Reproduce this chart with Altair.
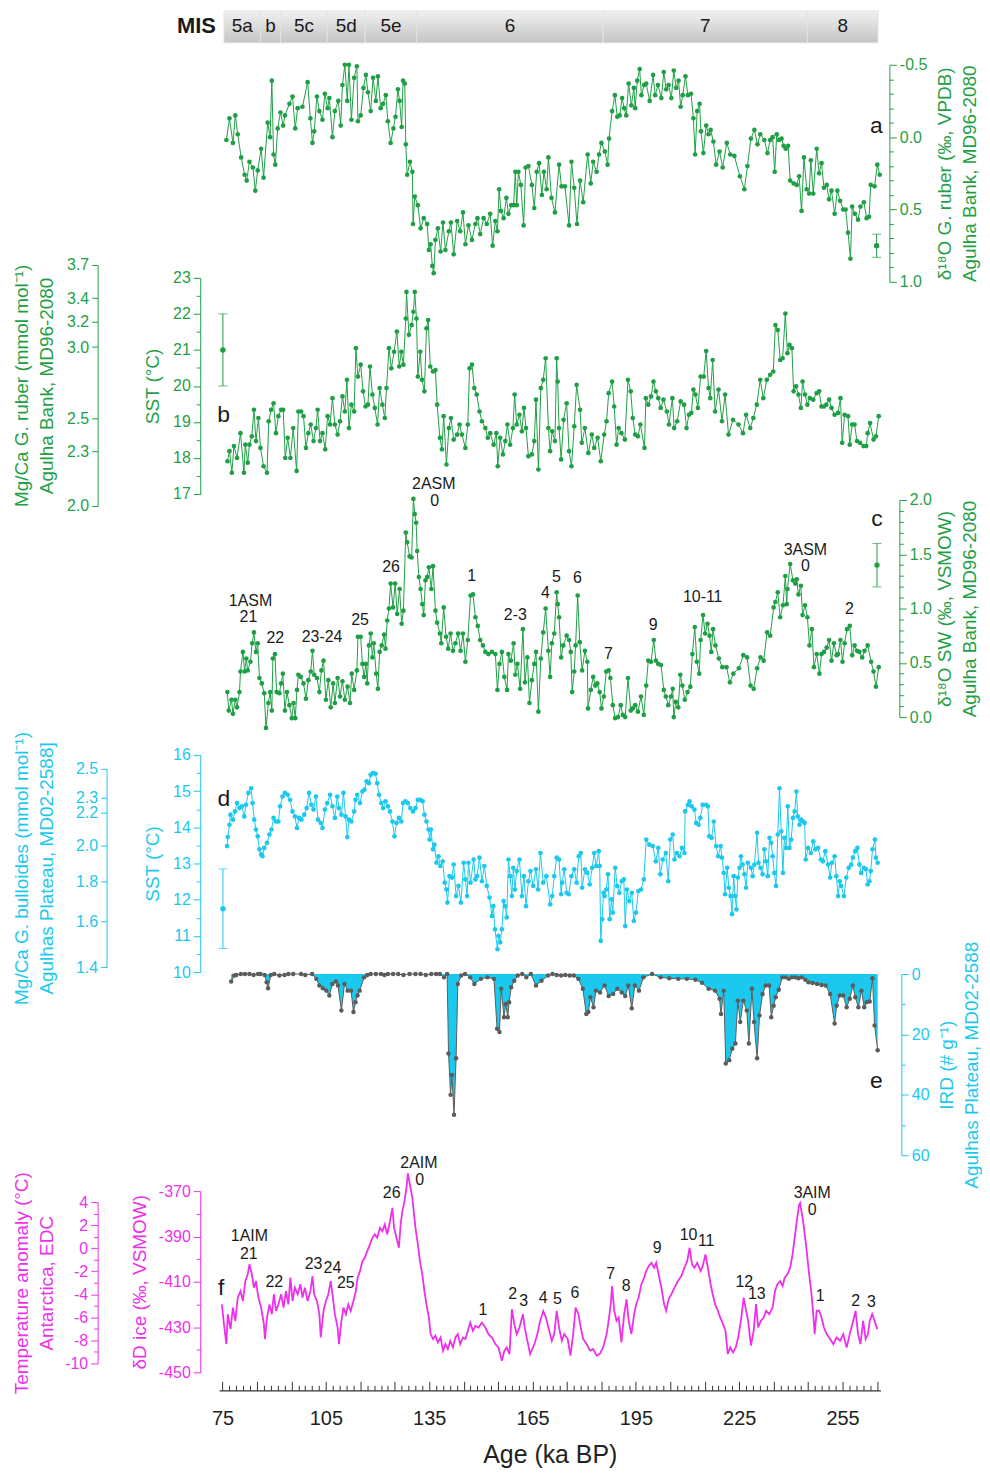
import altair as alt
import pandas as pd

FONT = "Liberation Sans"
GREEN = "#1f9f45"
CYAN = "#1bc9ee"
MAGENTA = "#ee30ea"
GREY = "#5c5c5c"
INK = "#1a1a1a"

W, H = 664, 1385
TOP = 8
AGE_DOMAIN = [74, 266]

# ---------------- MIS bar ----------------
MIS_NAMES = ["5a", "b", "5c", "5d", "5e", "6", "7", "8"]
MIS_START = [75.4, 86.0, 91.8, 105.4, 116.4, 131.4, 185.5, 244.8]
MIS_END = [86.0, 91.8, 105.4, 116.4, 131.4, 185.5, 244.8, 265.3]

# ---------------- (a) d18O G. ruber ----------------
A_D18O = [
(76.1,0.02),(77.0,-0.13),(78.0,0.04),(78.7,-0.15),(79.4,-0.02),(80.4,0.14),(81.4,0.26),(82.0,0.30),(82.8,0.17),(83.8,0.21),
(84.5,0.37),(85.2,0.23),(86.2,0.08),(86.9,0.28),(88.1,-0.10),(88.8,0.00),(89.3,-0.39),(89.8,0.12),(90.3,0.19),(91.0,-0.06),
(91.8,-0.17),(92.6,-0.08),(93.1,-0.15),(94.4,-0.23),(95.3,-0.28),(96.1,-0.06),(96.8,-0.20),(98.2,-0.21),(99.7,-0.38),(100.5,-0.13),
(101.1,0.04),(101.6,-0.04),(102.4,-0.28),(103.1,-0.18),(104.0,-0.12),(104.7,-0.30),(105.5,-0.20),(106.0,-0.27),(106.9,0.00),(107.6,-0.18),
(108.6,-0.25),(109.3,-0.08),(109.8,-0.36),(110.5,-0.50),(111.2,-0.25),(111.7,-0.50),(112.4,-0.12),(113.2,-0.41),(114.0,-0.49),(114.3,-0.11),
(115.1,-0.15),(115.9,-0.34),(116.6,-0.43),(117.2,-0.31),(118.0,-0.18),(118.7,-0.41),(119.5,-0.25),(120.1,-0.42),(120.9,-0.20),(121.6,-0.23),
(122.4,-0.29),(123.0,-0.11),(123.8,0.04),(124.6,-0.06),(125.2,-0.14),(125.9,-0.33),(126.4,-0.25),(127.0,-0.07),(127.4,-0.39),(127.9,-0.37),
(128.2,0.05),(128.6,0.26),(129.4,0.17),(130.1,0.24),(130.3,0.60),(130.8,0.41),(131.7,0.47),(132.5,0.63),(133.4,0.56),(134.4,0.60),
(134.9,0.78),(135.4,0.74),(135.9,0.89),(136.3,0.94),(136.8,0.71),(137.5,0.63),(138.3,0.79),(139.0,0.59),(139.7,0.78),(140.7,0.65),
(141.3,0.59),(142.1,0.81),(143.1,0.58),(144.0,0.65),(144.8,0.52),(145.5,0.74),(146.4,0.61),(147.4,0.71),(148.4,0.60),(149.0,0.56),
(149.8,0.67),(150.8,0.56),(151.7,0.60),(152.7,0.53),(153.4,0.75),(154.2,0.58),(154.8,0.65),(155.3,0.36),(155.8,0.51),(156.6,0.56),
(157.4,0.42),(158.0,0.53),(158.8,0.47),(159.5,0.47),(160.0,0.24),(160.4,0.47),(160.9,0.24),(161.6,0.33),(162.4,0.61),(163.0,0.21),
(163.8,0.20),(164.8,0.33),(165.5,0.49),(166.2,0.24),(166.9,0.18),(167.7,0.40),(168.3,0.24),(169.1,0.36),(169.6,0.14),(170.5,0.42),
(171.5,0.52),(172.7,0.19),(173.4,0.34),(174.4,0.34),(175.6,0.61),(176.3,0.17),(177.1,0.35),(177.9,0.60),(178.8,0.30),(179.7,0.45),
(181.0,0.12),(181.9,0.32),(182.6,0.17),(183.6,0.24),(184.3,0.12),(185.0,0.04),(186.0,0.10),(186.8,0.19),(187.2,0.01),(188.1,-0.18),
(188.9,-0.29),(189.6,-0.14),(190.3,-0.15),(191.0,-0.27),(191.6,-0.20),(192.2,-0.15),(192.9,-0.37),(193.7,-0.22),(194.4,-0.34),(194.8,-0.20),
(195.4,-0.39),(196.1,-0.47),(196.6,-0.29),(197.4,-0.36),(198.0,-0.37),(199.0,-0.25),(200.0,-0.43),(200.6,-0.29),(201.4,-0.36),(202.4,-0.27),
(203.1,-0.45),(203.8,-0.33),(204.5,-0.36),(205.3,-0.27),(206.0,-0.46),(206.7,-0.34),(207.4,-0.39),(208.0,-0.21),(208.6,-0.29),(209.4,-0.42),
(210.1,-0.29),(211.0,-0.30),(211.7,-0.13),(212.2,0.12),(212.8,-0.18),(213.5,-0.23),(213.9,-0.04),(214.6,0.11),(215.4,-0.08),(216.1,-0.02),
(216.7,-0.05),(217.5,0.03),(218.3,0.19),(219.3,0.10),(220.2,0.21),(221.4,0.04),(222.4,0.12),(223.6,0.13),(225.2,0.27),(226.5,0.36),
(227.4,0.20),(228.4,0.01),(229.4,-0.05),(230.3,0.05),(231.1,-0.02),(232.3,0.02),(233.2,0.11),(234.0,0.02),(234.7,0.00),(235.3,0.24),
(235.9,-0.02),(236.6,0.02),(237.3,0.01),(237.9,0.06),(238.5,0.08),(239.2,0.06),(239.8,0.30),(240.8,0.32),(241.7,0.33),(242.4,0.27),
(243.1,0.51),(243.8,0.14),(244.6,0.36),(245.3,0.39),(245.8,0.16),(246.5,0.39),(247.5,0.08),(248.2,0.25),(248.9,0.18),(249.6,0.35),
(250.4,0.33),(251.1,0.43),(251.8,0.37),(252.7,0.53),(253.5,0.37),(254.3,0.44),(255.2,0.50),(255.9,0.50),(256.6,0.66),(257.3,0.84),
(257.8,0.48),(258.6,0.53),(259.5,0.57),(260.2,0.48),(261.2,0.45),(262.0,0.56),(262.7,0.55),(263.2,0.33),(264.3,0.34),(265.1,0.19),
(265.8,0.26),
]
A_ERR = (264.9, 0.75, 0.08)
A_TICKS = [-0.5, -0.4, -0.3, -0.2, -0.1, 0.0, 0.1, 0.2, 0.3, 0.4, 0.5, 0.6, 0.7, 0.8, 0.9, 1.0]

# ---------------- (b) SST Agulhas Bank ----------------
B_SST = [
(76.4,17.91),(77.0,18.19),(77.7,17.59),(78.3,18.33),(79.2,18.00),(80.2,18.69),(81.2,17.59),(81.6,18.37),(82.3,17.87),(82.8,18.37),
(83.5,18.60),(84.1,19.34),(84.7,18.47),(85.4,19.11),(86.0,18.28),(86.9,17.77),(87.9,17.59),(88.4,19.02),(89.1,19.34),(89.8,19.52),
(90.5,18.69),(91.2,19.16),(92.0,19.34),(92.6,19.34),(93.2,18.00),(93.9,18.56),(94.7,18.00),(95.5,18.83),(96.5,17.64),(97.0,19.29),
(97.8,19.29),(98.5,19.16),(99.2,18.28),(99.9,18.69),(100.6,18.93),(101.4,18.47),(102.1,18.83),(102.6,19.34),(103.3,18.47),(104.0,18.69),
(104.8,18.24),(105.5,19.16),(106.2,18.93),(106.9,19.66),(107.6,18.93),(108.4,18.65),(109.1,19.02),(109.8,19.71),(110.5,19.29),(111.1,20.17),
(111.7,18.83),(112.4,19.48),(113.2,19.29),(113.7,21.05),(114.3,20.26),(115.1,20.59),(115.8,19.85),(116.5,19.43),(117.2,19.48),(117.8,20.54),
(118.5,19.76),(119.2,19.39),(120.0,18.93),(120.6,19.94),(121.4,19.48),(122.1,19.11),(122.6,19.94),(123.3,21.05),(124.0,20.49),(124.8,20.95),
(125.6,21.51),(126.3,20.54),(126.9,20.95),(127.5,20.59),(128.2,21.87),(128.4,22.61),(129.1,21.42),(129.9,21.69),(130.4,22.06),(130.8,22.61),
(131.3,21.87),(131.7,20.26),(132.4,20.95),(132.9,20.17),(133.6,19.85),(134.2,21.60),(134.7,21.83),(135.3,20.54),(136.1,20.40),(136.8,20.44),
(137.3,19.48),(138.1,18.56),(138.7,18.24),(139.2,19.16),(140.0,17.82),(140.7,18.83),(141.3,19.11),(142.1,18.51),(143.1,18.65),(143.8,18.93),
(144.5,18.65),(145.5,18.28),(146.2,18.93),(146.7,20.49),(147.4,20.59),(148.1,19.94),(148.8,19.76),(149.6,19.29),(150.3,19.02),(151.3,18.83),
(152.0,18.56),(152.7,18.69),(153.7,18.37),(154.5,18.69),(154.9,17.77),(155.6,18.56),(156.4,18.10),(157.1,18.47),(157.7,18.93),(158.5,18.37),
(159.3,18.83),(159.8,19.76),(160.4,18.93),(161.2,19.20),(161.9,18.74),(162.5,19.39),(163.1,18.83),(163.8,18.05),(164.8,18.10),(165.5,18.47),
(166.0,19.62),(166.7,17.68),(167.4,19.94),(168.1,20.17),(168.8,20.77),(169.6,18.83),(170.1,18.19),(170.7,18.74),(171.5,18.47),(172.0,20.77),
(172.3,20.12),(172.7,18.83),(173.3,17.96),(174.0,19.06),(174.9,19.52),(175.6,18.19),(176.3,17.77),(177.1,18.88),(177.8,20.03),(178.8,19.34),
(179.3,18.42),(180.2,18.83),(181.2,18.14),(182.2,18.65),(182.9,18.28),(183.9,18.56),(184.8,17.91),(185.8,18.65),(186.5,19.02),(187.1,19.80),
(188.1,20.12),(188.7,19.43),(189.4,18.37),(190.0,18.83),(190.8,18.69),(191.8,18.51),(192.7,20.17),(193.5,19.85),(194.1,19.11),(194.8,18.65),
(195.6,18.60),(196.3,18.93),(197.5,18.28),(197.9,19.66),(198.6,19.48),(199.4,19.71),(200.1,20.12),(200.8,19.85),(201.5,19.66),(202.2,19.39),
(203.0,19.62),(204.0,19.29),(204.6,18.93),(205.6,19.66),(206.1,18.83),(207.0,19.02),(208.0,19.57),(209.0,19.48),(209.7,18.83),(210.4,19.20),
(211.1,19.25),(211.7,19.90),(212.3,19.76),(213.0,19.39),(213.8,20.26),(214.7,20.26),(215.4,20.97),(216.1,19.94),(216.6,19.66),(217.3,20.72),
(218.0,19.29),(219.0,19.90),(220.0,19.02),(220.9,19.76),(221.9,18.65),(223.2,19.06),(224.8,18.93),(226.1,18.69),(227.0,19.20),(228.2,18.83),
(229.1,19.11),(230.1,19.48),(231.1,20.17),(232.0,19.66),(233.0,20.17),(234.0,20.31),(234.9,20.40),(235.5,21.69),(236.2,21.55),(236.9,20.72),
(237.6,20.77),(238.4,22.01),(239.0,20.91),(239.6,21.14),(240.3,21.05),(240.8,19.85),(241.5,19.99),(242.2,19.76),(242.9,19.39),(243.4,20.12),
(244.1,19.76),(244.8,19.48),(245.5,19.66),(246.5,19.62),(247.5,19.80),(248.2,19.85),(248.9,19.43),(249.6,19.43),(250.3,19.48),(251.1,19.62),
(251.8,19.39),(252.7,19.20),(253.7,19.25),(254.4,19.66),(254.9,18.42),(255.6,19.20),(256.6,19.16),(257.1,18.37),(257.8,18.93),(258.5,18.93),
(259.2,18.47),(260.1,18.42),(261.1,18.33),(261.9,18.33),(262.3,18.69),(263.0,18.97),(264.0,18.51),(264.7,18.60),(265.5,19.16),
]
B_ERR = (75.1, 21.0, 1.0)
B_SST_TICKS = [17, 17.5, 18, 18.5, 19, 19.5, 20, 20.5, 21, 21.5, 22, 22.5, 23]
B_MGCA_TICKS = [2.0, 2.3, 2.5, 3.0, 3.2, 3.4, 3.7]

# ---------------- (c) d18O seawater ----------------
C_D18OSW = [
(76.4,0.23),(76.8,0.06),(77.6,0.16),(78.0,0.03),(78.7,0.16),(79.2,0.09),(79.9,0.23),(80.2,0.42),(80.9,0.60),(81.4,0.42),
(81.9,0.54),(82.3,0.43),(83.1,0.51),(83.6,0.68),(84.1,0.78),(84.7,0.60),(85.2,0.68),(85.7,0.36),(86.4,0.31),(87.1,0.22),
(87.6,-0.10),(88.3,0.13),(88.8,0.23),(89.3,0.06),(89.6,0.54),(90.2,0.58),(90.7,0.23),(91.5,0.22),(92.0,0.31),(92.5,0.40),
(93.1,0.06),(93.7,0.23),(94.4,0.11),(95.1,-0.01),(95.6,0.13),(96.1,-0.01),(96.6,0.25),(97.0,0.39),(97.7,0.37),(98.5,0.31),
(99.2,0.17),(99.9,0.34),(100.6,0.42),(101.1,0.61),(101.6,0.39),(102.4,0.36),(103.1,0.23),(103.7,0.43),(104.3,0.52),(105.0,0.16),
(105.7,0.34),(106.4,0.09),(107.1,0.31),(107.6,0.13),(108.4,0.36),(109.1,0.19),(109.8,0.33),(110.5,0.16),(111.3,0.28),(112.0,0.13),
(112.5,0.40),(113.2,0.25),(114.0,0.43),(114.3,0.74),(115.1,0.74),(115.6,0.49),(116.1,0.37),(116.6,0.49),(117.0,0.31),(117.5,0.66),
(118.0,0.77),(118.5,0.55),(118.9,0.68),(119.6,0.40),(120.1,0.26),(120.6,0.60),(121.2,0.66),(121.9,0.76),(122.3,0.63),(122.8,0.89),
(123.3,1.00),(123.8,1.23),(124.5,1.01),(125.1,1.23),(125.7,0.95),(126.4,1.18),(127.0,0.86),(127.5,0.98),(128.2,1.70),(128.6,1.61),
(129.3,1.48),(129.9,1.47),(130.4,2.01),(130.8,1.87),(131.2,1.79),(131.5,1.53),(132.0,1.29),(132.5,1.18),(133.0,1.04),(133.4,0.94),
(133.9,1.26),(134.4,1.29),(134.9,1.38),(135.6,1.18),(136.1,1.39),(136.8,0.98),(137.3,0.87),(138.1,0.77),(138.5,0.68),(139.2,1.01),
(139.9,0.74),(140.5,0.63),(141.2,0.77),(141.9,0.61),(142.6,0.68),(143.4,0.77),(144.1,0.61),(144.8,0.77),(145.5,0.51),(146.2,0.71),
(147.0,1.12),(147.7,1.13),(148.4,0.92),(149.1,0.84),(149.8,0.71),(150.6,0.66),(151.3,0.60),(152.2,0.58),(153.2,0.60),(154.2,0.58),
(154.8,0.25),(155.4,0.49),(156.1,0.60),(156.8,0.37),(157.6,0.25),(158.0,0.58),(158.7,0.52),(159.5,0.68),(160.0,0.39),(160.6,0.49),
(161.4,0.26),(162.2,0.81),(162.8,0.32),(163.5,0.55),(164.1,0.13),(164.8,0.34),(165.5,0.49),(166.0,0.60),(166.7,0.05),(167.4,0.54),
(168.1,0.78),(168.8,1.00),(169.6,0.61),(170.1,0.37),(170.6,0.68),(171.3,0.77),(172.0,1.15),(172.3,1.04),(172.7,0.92),(173.3,0.55),
(173.9,0.66),(174.9,0.75),(175.6,0.71),(176.1,0.60),(176.5,0.23),(177.1,0.42),(177.5,0.66),(178.1,1.12),(178.7,0.69),(179.4,0.43),
(180.2,0.61),(180.9,0.51),(181.1,0.08),(181.9,0.25),(182.6,0.37),(183.2,0.29),(183.8,0.31),(184.5,0.23),(185.0,0.08),(185.7,0.19),
(186.4,0.42),(187.1,0.43),(187.6,0.36),(188.3,0.11),(189.0,-0.01),(189.8,0.00),(190.6,0.11),(191.2,0.02),(191.9,0.00),(192.7,0.36),
(193.5,0.06),(194.1,0.08),(194.8,0.11),(195.6,0.05),(196.5,0.19),(197.3,0.02),(198.0,0.29),(198.6,0.52),(199.4,0.51),(200.2,0.71),
(200.8,0.52),(201.5,0.49),(202.3,0.48),(203.1,0.25),(203.7,0.19),(204.4,0.11),(205.2,0.19),(205.7,0.26),(206.0,0.00),(206.6,0.14),
(207.3,0.09),(207.9,0.39),(208.5,0.29),(209.2,0.16),(210.0,0.23),(210.8,0.28),(211.4,0.58),(212.1,0.83),(212.7,0.51),(213.4,0.40),
(213.8,0.71),(214.5,0.94),(215.1,0.77),(215.8,0.86),(216.4,0.75),(216.9,0.60),(217.4,0.81),(218.1,0.66),(219.1,0.54),(220.1,0.46),
(221.3,0.46),(222.3,0.32),(223.3,0.40),(224.9,0.45),(226.2,0.57),(227.3,0.55),(228.3,0.29),(229.2,0.26),(230.2,0.45),(231.2,0.55),
(232.1,0.52),(233.1,0.78),(234.0,0.75),(235.0,1.01),(235.5,1.06),(236.2,1.15),(236.9,0.92),(237.7,1.03),(238.4,1.30),(238.8,1.04),
(239.0,1.18),(239.8,1.41),(240.6,1.26),(241.3,1.23),(241.7,1.27),(242.2,1.13),(242.9,1.21),(243.4,0.94),(244.1,1.03),(244.8,0.92),
(245.4,0.66),(246.1,0.81),(246.7,0.46),(247.5,0.58),(248.3,0.40),(248.9,0.58),(249.6,0.60),(250.4,0.64),(251.1,0.71),(251.8,0.52),
(252.5,0.68),(253.3,0.57),(253.7,0.58),(254.4,0.71),(255.0,0.51),(255.6,0.68),(256.3,0.81),(257.1,0.84),(257.8,0.57),(258.5,0.66),
(259.2,0.61),(259.9,0.60),(260.7,0.55),(261.4,0.61),(262.3,0.66),(263.3,0.51),(264.0,0.42),(264.7,0.28),(265.5,0.46),
]
C_ERR = (265.0, 1.40, 0.20)
C_TICKS = [0.0, 0.1, 0.2, 0.3, 0.4, 0.5, 0.6, 0.7, 0.8, 0.9, 1.0, 1.1, 1.2, 1.3, 1.4, 1.5, 1.6, 1.7, 1.8, 1.9, 2.0]
C_LABEL_TEXT = ["1ASM", "21", "22", "23-24", "25", "26", "2ASM", "0", "1", "2-3", "4", "5", "6", "7", "9", "10-11", "3ASM", "0", "2"]
C_LABEL_AGE = [83.1, 82.5, 90.3, 103.9, 114.9, 123.9, 136.3, 136.6, 147.3, 160.0, 168.7, 171.9, 178.0, 187.0, 200.0, 214.4, 244.2, 244.2, 257.0]
C_LABEL_VAL = [1.07, 0.92, 0.73, 0.74, 0.89, 1.38, 2.15, 1.99, 1.30, 0.94, 1.14, 1.29, 1.28, 0.58, 0.85, 1.11, 1.54, 1.39, 1.00]

# ---------------- (d) SST Agulhas Plateau ----------------
D_SST = [
(76.3,13.48),(76.5,13.73),(77.0,14.07),(77.3,14.35),(78.0,14.21),(78.6,14.44),(79.2,14.67),(79.9,14.53),(80.6,14.58),(81.3,14.30),
(81.8,14.62),(82.5,14.95),(83.3,15.08),(83.7,14.67),(84.2,14.21),(84.7,13.94),(85.2,13.75),(85.7,13.39),(86.2,13.25),(86.6,13.20),
(87.1,13.43),(87.9,13.57),(88.6,13.80),(89.2,13.94),(89.8,14.26),(90.5,14.16),(91.2,14.16),(91.7,14.58),(92.4,14.85),(93.1,14.95),
(93.9,14.90),(94.6,14.76),(95.3,14.44),(96.0,14.30),(96.6,13.98),(97.2,14.26),(97.9,14.21),(98.7,14.35),(99.4,14.53),(100.1,14.95),
(100.8,14.62),(101.4,14.49),(102.1,14.85),(102.7,14.21),(103.5,14.12),(104.0,13.98),(104.7,14.49),(105.4,14.67),(106.2,14.90),(106.9,14.58),
(107.6,14.26),(108.3,14.85),(108.8,14.53),(109.5,14.35),(110.1,14.95),(110.7,14.30),(111.2,13.73),(111.7,14.21),(112.4,14.16),(113.2,14.44),
(113.6,14.76),(114.1,14.90),(114.9,14.67),(115.6,14.99),(116.2,15.04),(116.8,15.27),(117.5,15.22),(118.0,15.45),(118.7,15.50),(119.4,15.48),
(119.9,15.22),(120.4,14.90),(121.1,14.67),(121.6,14.53),(122.3,14.72),(123.0,14.58),(123.6,14.44),(124.3,14.16),(124.9,13.75),(125.5,14.12),
(126.2,14.26),(126.9,14.16),(127.4,14.67),(128.1,14.72),(128.8,14.67),(129.5,14.53),(130.3,14.44),(131.0,14.53),(131.7,14.76),(132.4,14.76),
(133.1,14.72),(133.6,14.35),(134.2,14.16),(134.8,13.94),(135.1,13.66),(135.5,13.94),(136.1,13.39),(136.5,13.52),(137.1,13.02),(137.7,13.20),
(138.2,12.93),(138.9,13.06),(139.5,12.47),(140.0,12.28),(140.3,11.92),(140.9,12.65),(141.6,12.61),(142.1,12.97),(142.8,12.10),(143.5,12.38),
(144.2,11.92),(145.0,13.02),(145.5,12.56),(146.0,12.10),(146.4,13.02),(147.0,12.47),(147.9,13.11),(148.4,12.56),(148.9,12.65),(149.6,13.16),
(150.3,12.51),(151.0,12.93),(151.7,12.38),(152.5,12.06),(153.2,11.55),(153.6,11.82),(154.1,11.18),(154.8,10.63),(155.1,11.00),(155.6,10.82),
(156.1,11.18),(156.6,11.96),(157.0,11.82),(157.5,11.51),(158.0,13.11),(158.5,12.65),(159.0,12.10),(159.4,12.88),(159.9,12.28),(160.4,12.79),
(161.2,13.11),(161.9,12.10),(162.5,12.65),(163.1,11.82),(163.8,12.51),(164.4,12.79),(165.2,12.38),(166.0,12.84),(166.6,12.28),(167.3,13.29),
(168.1,12.47),(169.0,12.65),(170.1,11.87),(170.7,12.10),(171.3,12.65),(172.0,13.16),(172.7,13.11),(173.3,12.15),(173.6,12.47),(174.2,12.84),
(174.9,12.19),(175.5,12.15),(176.3,12.65),(177.1,12.84),(177.8,12.47),(178.4,13.20),(179.0,13.29),(179.4,12.33),(180.2,12.84),(180.9,12.74),
(181.6,12.42),(182.3,12.88),(182.9,13.29),(183.5,12.93),(184.2,13.34),(184.5,12.93),(184.8,10.86),(185.2,11.46),(185.6,12.19),(185.9,12.10),
(186.4,12.28),(186.9,12.70),(187.4,11.46),(187.9,12.01),(188.3,11.64),(189.0,12.88),(189.6,12.38),(190.2,12.19),(190.9,12.51),(191.5,12.56),
(191.9,11.27),(192.4,12.28),(193.1,11.96),(193.8,12.19),(194.4,11.41),(195.0,11.64),(195.7,12.24),(196.5,12.28),(197.3,12.56),(198.0,13.66),
(198.9,13.52),(199.9,13.48),(200.8,13.06),(201.5,13.43),(202.1,12.70),(202.8,13.11),(203.7,13.29),(204.4,12.51),(205.0,13.66),(205.7,13.80),
(206.2,13.11),(206.9,13.29),(207.7,13.20),(208.4,13.43),(209.1,13.29),(209.3,14.44),(210.1,14.62),(210.6,14.72),(211.2,14.58),(212.0,14.49),
(212.5,14.12),(213.2,14.07),(213.7,14.26),(214.4,14.62),(215.4,14.62),(215.9,14.58),(216.3,13.75),(217.0,13.71),(217.6,14.16),(218.3,13.48),
(218.9,13.20),(219.6,13.48),(220.0,13.16),(220.5,12.74),(220.9,12.15),(221.5,12.88),(222.0,12.33),(222.5,12.10),(222.9,11.60),(223.4,12.65),
(223.8,12.10),(224.2,11.73),(224.6,12.61),(225.1,12.88),(225.5,13.20),(226.0,12.97),(226.5,12.70),(227.0,12.33),(227.5,13.02),(228.4,12.88),
(228.9,12.65),(229.4,12.97),(230.2,13.85),(230.6,13.02),(231.2,12.88),(231.8,12.70),(232.3,13.39),(232.8,13.06),(233.3,12.65),(233.8,13.71),
(234.3,13.57),(234.7,13.20),(235.2,12.74),(235.7,12.38),(236.2,13.80),(236.7,15.08),(237.2,13.89),(237.7,12.74),(238.1,13.71),(238.6,13.43),
(239.1,14.58),(239.6,13.43),(240.1,13.66),(240.6,14.26),(241.1,14.44),(241.6,14.99),(242.0,14.30),(242.5,14.07),(243.0,14.21),(243.5,14.16),
(244.0,14.12),(244.3,13.11),(245.0,13.43),(245.8,13.29),(246.5,13.61),(247.1,13.39),(247.9,13.43),(248.7,13.11),(249.3,13.06),(250.0,13.34),
(250.8,12.97),(251.4,12.61),(251.9,13.02),(252.7,13.20),(253.2,12.65),(253.7,12.10),(254.2,12.51),(254.6,12.38),(255.4,12.10),(256.1,12.61),
(256.8,12.88),(257.5,12.97),(258.0,13.16),(258.7,13.34),(259.3,13.43),(259.9,12.97),(260.4,12.74),(261.2,12.88),(261.8,12.84),(262.3,12.42),
(262.8,12.51),(263.2,12.79),(263.7,13.39),(264.4,13.66),(264.7,13.16),(265.2,13.02),
]
D_ERR = (75.1, 11.75, 1.1)
D_SST_TICKS = [10, 10.5, 11, 11.5, 12, 12.5, 13, 13.5, 14, 14.5, 15, 15.5, 16]
D_MGCA_TICKS = [1.4, 1.6, 1.8, 2.0, 2.2, 2.3, 2.5]

# ---------------- (e) IRD ----------------
E_IRD = [
(77.5,2.5),(78.4,0.5),(79.0,0.3),(80.3,0.0),(81.5,0.0),(82.8,0.0),(84.0,0.3),(85.3,0.0),(86.0,0.0),(87.2,0.3),
(87.8,2.7),(88.2,4.7),(89.0,0.3),(90.0,0.0),(91.5,0.5),(93.0,0.3),(94.1,0.0),(95.5,0.0),(97.8,0.0),(99.0,0.3),
(101.0,0.0),(102.2,1.6),(103.1,3.8),(104.1,4.7),(105.1,5.5),(106.0,7.1),(106.9,3.3),(107.9,2.5),(108.5,3.8),(109.5,12.1),
(110.4,3.3),(111.3,5.5),(112.3,5.5),(113.0,12.6),(113.6,9.3),(114.2,7.1),(114.8,5.5),(116.1,1.1),(117.0,0.3),(118.0,0.0),
(119.5,0.0),(121.0,0.0),(122.0,0.3),(123.0,0.0),(124.5,0.0),(126.0,0.0),(127.5,0.3),(129.3,0.0),(131.0,0.0),(132.5,0.0),
(134.0,0.3),(135.6,0.0),(137.0,0.0),(138.1,0.0),(139.3,1.1),(140.2,0.0),(140.6,26.3),(141.2,40.0),(141.6,33.4),(142.2,46.6),
(142.8,27.9),(143.3,3.3),(144.3,0.5),(145.4,0.0),(146.9,1.1),(148.1,3.3),(150.0,1.6),(151.9,1.1),(153.8,1.6),(154.7,18.1),
(155.4,19.2),(155.9,4.9),(156.7,14.3),(157.2,9.9),(157.8,14.3),(158.2,9.3),(158.8,4.4),(159.7,2.2),(160.7,0.5),(162.0,0.0),
(163.2,1.1),(164.5,0.0),(166.0,3.8),(167.6,2.2),(169.5,0.5),(170.8,0.0),(172.0,0.3),(173.3,0.5),(174.5,0.3),(175.8,0.5),
(177.0,0.5),(178.3,1.6),(179.6,4.9),(180.6,13.2),(181.2,12.6),(181.8,7.7),(182.7,11.0),(183.4,5.5),(184.6,6.1),(185.9,3.8),
(187.1,7.3),(188.4,6.6),(189.6,4.9),(190.9,6.1),(191.9,7.3),(192.8,3.8),(193.8,11.3),(194.7,3.8),(195.9,5.5),(197.2,1.1),
(199.7,0.0),(202.2,1.1),(204.7,1.4),(207.3,1.6),(209.8,1.6),(212.3,1.9),(214.2,2.9),(216.1,4.9),(218.0,5.5),(219.3,8.2),
(219.7,13.2),(220.5,5.5),(221.1,29.6),(222.1,28.5),(223.0,24.7),(223.9,23.0),(224.6,8.8),(225.3,15.9),(226.2,8.8),(227.2,12.1),
(227.8,23.0),(228.7,4.9),(229.3,15.9),(230.2,27.9),(230.9,13.7),(231.8,6.6),(232.7,3.8),(233.7,3.8),(234.3,14.3),(235.0,10.5),
(235.6,7.7),(236.5,5.2),(237.5,1.1),(238.5,1.1),(239.4,1.6),(240.3,1.1),(241.3,1.1),(242.2,1.4),(243.2,1.1),(244.2,1.9),
(245.1,2.7),(246.3,3.0),(247.6,3.3),(248.9,3.6),(250.1,3.8),(251.4,6.6),(252.7,16.4),(253.3,10.5),(254.2,7.1),(255.2,7.1),
(256.2,11.0),(257.1,8.2),(258.0,3.8),(258.7,7.7),(259.6,11.0),(260.5,5.5),(261.3,11.0),(262.0,9.3),(262.9,9.1),(263.7,1.4),
(264.3,17.0),(265.2,25.2),
]
E_TICKS = [0, 10, 20, 30, 40, 50, 60]

# ---------------- (f) EDC dD ----------------
F_DD = [
(74.8,-420.0),(75.4,-428.7),(76.1,-437.5),(76.5,-424.3),(77.3,-430.9),(78.0,-421.4),(78.7,-427.3),(79.4,-417.0),(80.2,-414.1),(80.9,-418.5),
(81.6,-409.7),(82.3,-406.7),(82.8,-402.3),(83.5,-406.7),(84.1,-412.6),(84.7,-409.7),(85.4,-417.0),(86.2,-421.4),(87.0,-428.7),(87.3,-435.3),
(87.9,-425.8),(88.6,-420.0),(89.3,-424.3),(89.9,-415.5),(90.5,-422.9),(91.2,-420.0),(92.0,-415.5),(92.7,-421.4),(93.4,-414.1),(94.1,-420.0),
(94.7,-408.2),(95.3,-418.5),(96.0,-412.6),(96.8,-415.5),(97.6,-411.1),(98.2,-417.0),(98.9,-412.6),(99.7,-418.5),(100.5,-414.1),(101.1,-407.5),
(101.6,-415.5),(102.4,-418.5),(103.1,-424.3),(103.5,-434.6),(104.3,-422.9),(105.0,-418.5),(105.7,-415.5),(106.4,-409.7),(106.9,-415.5),(107.6,-424.3),
(108.4,-430.2),(108.8,-437.5),(109.5,-427.3),(110.1,-421.4),(110.8,-424.3),(111.5,-420.0),(112.2,-422.9),(113.0,-418.5),(113.7,-414.1),(114.2,-408.2),
(114.9,-405.3),(115.6,-400.9),(116.3,-399.4),(117.0,-396.5),(117.8,-393.5),(118.5,-390.6),(119.2,-389.1),(119.9,-390.6),(120.7,-386.2),(121.4,-387.7),
(122.1,-384.7),(122.8,-389.1),(123.6,-383.3),(124.3,-377.4),(124.8,-386.2),(125.5,-390.6),(126.2,-395.0),(126.7,-384.7),(127.2,-378.9),(127.8,-374.5),
(128.4,-368.6),(128.8,-362.1),(129.4,-367.2),(130.1,-373.0),(130.5,-378.9),(131.0,-386.2),(131.7,-393.5),(132.3,-400.9),(133.0,-406.7),(133.6,-414.1),
(134.2,-420.0),(134.9,-425.8),(135.4,-433.1),(136.1,-435.3),(136.8,-433.8),(137.5,-436.8),(138.3,-434.6),(139.0,-440.5),(139.7,-437.5),(140.4,-439.7),
(141.1,-436.1),(141.9,-439.0),(142.6,-434.6),(143.3,-433.1),(144.0,-437.5),(144.8,-434.6),(145.5,-435.3),(146.2,-431.7),(146.9,-428.0),(147.7,-431.7),
(148.4,-429.5),(149.3,-430.2),(150.3,-428.0),(151.3,-430.2),(152.2,-433.1),(153.2,-434.6),(154.2,-437.5),(155.1,-439.0),(156.1,-444.9),(156.8,-440.5),
(157.5,-439.0),(158.3,-442.0),(159.0,-422.1),(159.7,-428.7),(160.4,-433.1),(161.2,-430.2),(162.2,-424.3),(162.8,-430.9),(163.5,-436.1),(164.3,-442.0),
(165.1,-439.0),(165.7,-436.8),(166.4,-433.1),(167.2,-427.3),(168.1,-422.9),(168.9,-425.8),(169.6,-430.2),(170.6,-436.1),(171.3,-433.1),(172.0,-422.8),
(172.7,-430.2),(173.5,-436.0),(174.2,-433.1),(175.2,-435.3),(176.0,-442.6),(176.8,-433.1),(177.5,-421.4),(178.3,-424.3),(179.0,-430.2),(179.7,-435.3),
(180.7,-437.5),(181.7,-440.4),(182.6,-439.7),(183.6,-442.6),(184.5,-441.9),(185.5,-439.0),(186.5,-433.1),(187.1,-427.2),(187.7,-419.9),(188.1,-411.9),
(188.7,-422.8),(189.4,-427.2),(190.0,-425.8),(190.8,-436.8),(191.6,-424.3),(192.3,-417.7),(192.9,-427.2),(193.7,-433.1),(194.5,-424.3),(195.1,-419.9),
(195.8,-417.0),(196.6,-411.1),(197.4,-408.2),(198.0,-405.3),(198.7,-403.1),(199.5,-401.6),(200.3,-403.8),(200.9,-401.6),(201.6,-406.7),(202.4,-412.6),
(203.2,-419.9),(203.8,-422.8),(204.5,-417.7),(205.3,-415.5),(206.2,-412.6),(207.2,-409.7),(208.2,-407.5),(209.1,-403.8),(209.9,-400.9),(210.6,-395.0),
(211.3,-402.3),(212.0,-403.8),(212.8,-401.6),(213.8,-405.3),(214.4,-403.1),(215.2,-397.9),(215.9,-403.8),(216.7,-411.1),(217.3,-415.5),(218.0,-419.9),
(218.8,-422.8),(219.5,-425.8),(220.3,-428.7),(221.0,-431.6),(221.7,-441.9),(222.4,-439.0),(223.2,-441.2),(224.0,-439.0),(224.7,-434.6),(225.5,-427.2),
(226.3,-417.0),(227.0,-422.8),(227.6,-427.2),(228.4,-438.2),(229.2,-431.6),(229.9,-419.9),(230.5,-430.2),(231.3,-427.2),(232.1,-425.8),(232.8,-422.8),
(233.7,-424.3),(234.7,-421.4),(235.4,-414.1),(236.1,-411.1),(236.9,-409.7),(237.6,-411.9),(238.2,-408.2),(239.0,-406.7),(239.8,-403.8),(240.5,-397.9),
(241.1,-390.6),(241.7,-383.3),(242.4,-376.0),(242.7,-375.2),(242.9,-377.4),(243.4,-381.8),(243.8,-386.2),(244.6,-396.5),(245.3,-406.7),(246.0,-415.5),
(246.5,-424.3),(246.9,-433.1),(247.5,-422.8),(248.2,-422.8),(248.9,-425.8),(249.6,-430.2),(250.4,-433.1),(251.4,-435.3),(252.3,-437.5),(253.3,-434.6),
(254.3,-436.0),(255.2,-433.1),(256.2,-439.0),(257.1,-433.1),(258.1,-427.2),(258.8,-422.8),(259.5,-433.1),(260.2,-437.5),(261.0,-427.2),(261.7,-435.3),
(262.4,-433.1),(262.9,-427.2),(263.6,-424.3),(264.3,-427.2),(265.1,-430.9),
]
F_DD_TICKS = [-450, -440, -430, -420, -410, -400, -390, -380, -370]
F_T_TICKS = [-10, -9, -8, -7, -6, -5, -4, -3, -2, -1, 0, 1, 2, 3, 4]
F_LABEL_TEXT = ["1AIM", "21", "22", "23", "24", "25", "26", "2AIM", "0", "1", "2", "3", "4", "5", "6", "7", "8", "9", "10", "11", "12", "13", "3AIM", "0", "1", "2", "3"]
F_LABEL_AGE = [82.8, 82.6, 90.0, 101.4, 106.9, 110.8, 124.1, 132.0, 132.2, 150.6, 159.2, 162.4, 168.1, 172.2, 177.3, 187.7, 192.2, 201.2, 210.3, 215.4, 226.5, 230.1, 246.2, 246.2, 248.5, 258.8, 263.4]
F_LABEL_VAL = [-389.8, -397.7, -410.0, -402.1, -403.8, -410.4, -370.9, -357.7, -365.0, -422.6, -415.6, -418.5, -417.3, -417.8, -414.8, -406.5, -411.9, -395.1, -389.5, -392.1, -410.1, -415.6, -370.9, -378.2, -416.3, -418.5, -418.8]

# ---------------- x axis ----------------
X_TICKS = list(range(75, 266, 2))
X_LABELS = [75, 105, 135, 165, 195, 225, 255]

# ================= chart construction =================
def yscale(d0, d1, p0, p1, typ="linear"):
    return alt.Scale(type=typ, domain=[d0, d1], range=[p0 - TOP, p1 - TOP], zero=False, nice=False)

S_A = yscale(-0.5, 1.0, 62, 280)
S_B = yscale(17, 23, 493, 276)
S_BMG = yscale(2.0, 3.7, 505, 263, "log")
S_C = yscale(0.0, 2.0, 717, 499)
S_D = yscale(10, 16, 973, 755)
S_DMG = yscale(1.4, 2.5, 968, 769, "log")
S_E = yscale(0, 60, 975, 1157)
S_F = yscale(-450, -370, 1375, 1193)
S_FT = yscale(-10, 4, 1366, 1204)
XS = alt.Scale(domain=AGE_DOMAIN, zero=False, nice=False)
X = alt.X("age:Q", scale=XS, axis=None, title=None)


def lab(test, fmt):
    return f"({test}) ? replace(format(datum.value, '{fmt}'), '\u2212', '-') : ''"


def yaxis(orient, offset, color, values, test, fmt, title=None, title_x=0, tmaj=7, tmin=4, pad=3, size=16):
    kw = dict(orient=orient, offset=offset, values=values, grid=False,
              domainColor=color, tickColor=color, labelColor=color,
              tickSize={"condition": {"test": test, "value": tmaj}, "value": tmin},
              labelExpr=lab(test, fmt), labelFont=FONT, labelFontSize=size,
              labelPadding=pad, labelOverlap=False, labelBound=False, labelFlush=False)
    if title is not None:
        kw.update(title=title, titleColor=color, titleFont=FONT, titleFontSize=19,
                  titleFontWeight="normal", titleAngle=270, titleAlign="center",
                  titleBaseline="middle", titleX=title_x, titleLineHeight=25)
    else:
        kw.update(title=None)
    return alt.Axis(**kw)


def series(points, scale, color, axis=None, size=22, width=1.0, with_points=True):
    df = pd.DataFrame(points, columns=["age", "v"])
    out = [alt.Chart(df).mark_line(color=color, strokeWidth=width).encode(
        x=X, y=alt.Y("v:Q", scale=scale, axis=axis if axis is not None else None))]
    if with_points:
        out.append(alt.Chart(df).mark_circle(color=color, size=size, opacity=1).encode(
            x=X, y=alt.Y("v:Q", scale=scale, axis=None)))
    return out


def errbar(err, scale, color):
    age, mid, half = err
    df = pd.DataFrame({"age": [age], "mid": [mid], "lo": [mid - half], "hi": [mid + half]})
    base = alt.Chart(df)
    return [
        base.mark_rule(color=color, strokeWidth=1).encode(x=X, y=alt.Y("lo:Q", scale=scale, axis=None), y2="hi:Q"),
        base.mark_tick(orient="horizontal", size=9, thickness=1, color=color).encode(x=X, y=alt.Y("lo:Q", scale=scale, axis=None)),
        base.mark_tick(orient="horizontal", size=9, thickness=1, color=color).encode(x=X, y=alt.Y("hi:Q", scale=scale, axis=None)),
        base.mark_circle(color=color, size=30, opacity=1).encode(x=X, y=alt.Y("mid:Q", scale=scale, axis=None)),
    ]


def texts(txt, ages, vals, scale, size=16, color=INK):
    df = pd.DataFrame({"t": txt, "age": ages, "v": vals})
    return alt.Chart(df).mark_text(font=FONT, fontSize=size, color=color, align="center", baseline="middle").encode(
        x=X, y=alt.Y("v:Q", scale=scale, axis=None), text="t:N")


def dummy_axis(values, scale, axis):
    df = pd.DataFrame({"v": values})
    return alt.Chart(df).mark_point(opacity=0).encode(y=alt.Y("v:Q", scale=scale, axis=axis))


layers = []

# MIS bar
mis_df = pd.DataFrame({"name": MIS_NAMES, "start": MIS_START, "end": MIS_END})
grad = alt.LinearGradient(gradient="linear",
                          stops=[alt.GradientStop(color="#f1f1f1", offset=0),
                                 alt.GradientStop(color="#c4c4c4", offset=1)],
                          x1=0, x2=0, y1=0, y2=1)
layers.append(alt.Chart(mis_df).mark_rect(color=grad, stroke="#e2e2e2", strokeWidth=1).encode(
    x=alt.X("start:Q", scale=XS, axis=None), x2="end:Q", y=alt.value(0), y2=alt.value(32)))
layers.append(alt.Chart(mis_df).transform_calculate(age="(datum.start + datum.end) / 2").mark_text(
    font=FONT, fontSize=19, color=INK).encode(x=X, y=alt.value(15), text="name:N"))
layers.append(alt.Chart(pd.DataFrame({"age": [67.4], "t": ["MIS"]})).mark_text(
    font=FONT, fontSize=22, fontWeight="bold", color=INK).encode(x=X, y=alt.value(15), text="t:N"))

# (a)
ax_a = yaxis("right", 9, GREEN, A_TICKS, "abs(round(datum.value*10)) % 5 == 0", ".1f",
             ["δ¹⁸O G. ruber (‰, VPDB)", "Agulha Bank, MD96-2080"], 55)
layers += series(A_D18O, S_A, GREEN, ax_a)
layers += errbar(A_ERR, S_A, GREEN)
layers.append(texts(["a"], [264.8], [-0.08], S_A, size=23))

# (b)
ax_b = yaxis("left", 19, GREEN, B_SST_TICKS, "datum.value % 1 == 0", ".0f", "SST (°C)", -48)
layers += series(B_SST, S_B, GREEN, ax_b)
layers += errbar(B_ERR, S_B, GREEN)
layers.append(texts(["b"], [75.3], [19.18], S_B, size=23))
ax_bmg = yaxis("left", 122, GREEN, B_MGCA_TICKS, "true", ".1f",
               ["Mg/Ca G. ruber (mmol mol⁻¹)", "Agulha Bank, MD96-2080"], -76, tmaj=6)
layers.append(dummy_axis(B_MGCA_TICKS, S_BMG, ax_bmg))

# (c)
ax_c = yaxis("right", 19, GREEN, C_TICKS, "abs(round(datum.value*10)) % 5 == 0", ".1f",
             ["δ¹⁸O SW (‰, VSMOW)", "Agulha Bank, MD96-2080"], 45)
layers += series(C_D18OSW, S_C, GREEN, ax_c)
layers += errbar(C_ERR, S_C, GREEN)
layers.append(texts(C_LABEL_TEXT, C_LABEL_AGE, C_LABEL_VAL, S_C, size=16))
layers.append(texts(["c"], [265.0], [1.82], S_C, size=23))

# (e) area first (under d)
e_df = pd.DataFrame(E_IRD, columns=["age", "v"])
ax_e = yaxis("right", 21, CYAN, E_TICKS, "datum.value % 20 == 0", "d",
             ["IRD (# g⁻¹)", "Agulhas Plateau, MD02-2588"], 45)
layers.append(alt.Chart(e_df).mark_area(color=CYAN, opacity=1).encode(
    x=X, y=alt.Y("v:Q", scale=S_E, axis=ax_e), y2=alt.datum(0)))
layers += series(E_IRD, S_E, GREY, None, size=20, width=1.0)
layers.append(texts(["e"], [264.8], [35.5], S_E, size=23))

# (d)
ax_d = yaxis("left", 19, CYAN, D_SST_TICKS, "datum.value % 1 == 0", ".0f", "SST (°C)", -48)
layers += series(D_SST, S_D, CYAN, ax_d)
layers += errbar(D_ERR, S_D, CYAN)
layers.append(texts(["d"], [75.4], [14.78], S_D, size=23))
ax_dmg = yaxis("left", 113, CYAN, D_MGCA_TICKS, "true", ".1f",
               ["Mg/Ca G. bulloides (mmol mol⁻¹)", "Agulhas Plateau, MD02-2588]"], -85, tmaj=6)
layers.append(dummy_axis(D_MGCA_TICKS, S_DMG, ax_dmg))

# (f)
ax_f = yaxis("left", 19, MAGENTA, F_DD_TICKS, "abs(datum.value) % 20 == 10", "d", "δD ice (‰, VSMOW)", -61)
layers += series(F_DD, S_F, MAGENTA, ax_f, width=1.8, with_points=False)
layers.append(texts(F_LABEL_TEXT, F_LABEL_AGE, F_LABEL_VAL, S_F, size=16))
layers.append(texts(["f"], [74.6], [-412.6], S_F, size=23))
ax_ft = yaxis("left", 122, MAGENTA, F_T_TICKS, "abs(datum.value) % 2 == 0", "d",
              ["Temperature anomaly (°C)", "Antarctica, EDC"], -76)
layers.append(dummy_axis(F_T_TICKS, S_FT, ax_ft))

# x axis: ticks pointing inward + labels below
xt_df = pd.DataFrame({"age": X_TICKS})
layers.append(alt.Chart(xt_df).mark_point(opacity=0).encode(
    x=alt.X("age:Q", scale=XS, title=None, axis=alt.Axis(
        orient="top", offset=-H, values=X_TICKS, labels=False, grid=False, title=None,
        domainColor="#333333", tickColor="#333333", domainWidth=1.2,
        tickSize={"condition": {"test": "(datum.value - 75) % 10 == 0", "value": 9}, "value": 5}))))
xl_df = pd.DataFrame({"age": X_LABELS})
layers.append(alt.Chart(xl_df).mark_point(opacity=0).encode(
    x=alt.X("age:Q", scale=XS, axis=alt.Axis(
        orient="bottom", values=X_LABELS, ticks=False, domain=False, grid=False, tickSize=0,
        labelPadding=18, labelFont=FONT, labelFontSize=20, labelColor="#222222",
        title="Age (ka BP)", titleFont=FONT, titleFontSize=25, titleFontWeight="normal",
        titleColor="#222222", titlePadding=14))))

chart = alt.layer(*layers).resolve_scale(y="independent").resolve_axis(
    y="independent", x="independent").properties(
    width=W, height=H,
    autosize=alt.AutoSizeParams(type="none"),
    padding={"left": 212, "top": 0, "right": 102, "bottom": 75},
).configure(font=FONT, background="white").configure_view(stroke=None, strokeWidth=0)

chart.save("out.html", embed_options={"renderer": "svg", "actions": False})
